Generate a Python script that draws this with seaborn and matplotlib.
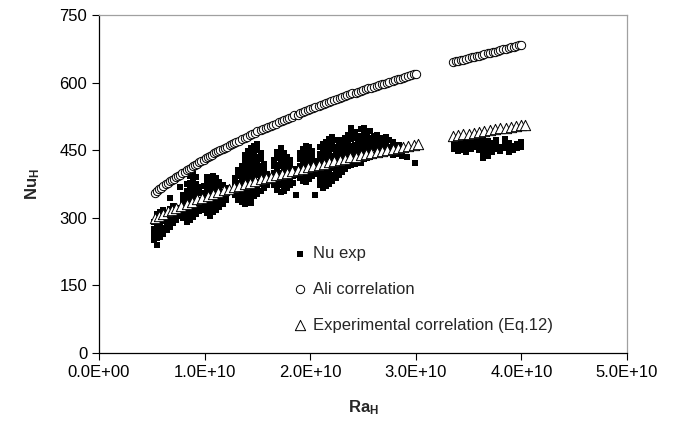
import numpy as np
import pandas as pd
import seaborn as sns
import matplotlib.pyplot as plt
from matplotlib.ticker import FuncFormatter

# Ali correlation (Ra in units of 1E10)
ali_ra = [0.53, 0.55, 0.57, 0.59, 0.61, 0.63, 0.65, 0.67, 0.69, 0.71, 0.73, 0.75, 0.77, 0.79,
          0.81, 0.83, 0.85, 0.87, 0.89, 0.91, 0.93, 0.95, 0.97, 0.99, 1.01, 1.03, 1.05, 1.07,
          1.09, 1.11, 1.13, 1.15, 1.17, 1.19, 1.21, 1.24, 1.26, 1.28, 1.30, 1.33, 1.35, 1.38,
          1.40, 1.43, 1.45, 1.48, 1.50, 1.53, 1.55, 1.58, 1.60, 1.63, 1.65, 1.68, 1.70, 1.73,
          1.75, 1.78, 1.80, 1.83, 1.85, 1.88, 1.90, 1.93, 1.95, 1.98, 2.00, 2.03, 2.05, 2.08,
          2.10, 2.13, 2.15, 2.18, 2.20, 2.23, 2.25, 2.28, 2.30, 2.33, 2.35, 2.38, 2.40, 2.43,
          2.45, 2.48, 2.50, 2.53, 2.55, 2.58, 2.60, 2.63, 2.65, 2.68, 2.70, 2.73, 2.75, 2.78,
          2.80, 2.83, 2.85, 2.88, 2.90, 2.93, 2.95, 2.98, 3.00,
          3.35, 3.38, 3.40, 3.43, 3.45, 3.48, 3.50, 3.53, 3.55, 3.58, 3.60, 3.63, 3.65, 3.68,
          3.70, 3.73, 3.75, 3.78, 3.80, 3.83, 3.85, 3.88, 3.90, 3.93, 3.95, 3.98, 4.00]
ali_nu = [356, 360, 363, 367, 370, 374, 377, 381, 384, 387, 390, 393, 396, 399,
          402, 405, 408, 411, 414, 417, 420, 423, 426, 429, 432, 434, 437, 440,
          443, 445, 448, 450, 453, 455, 458, 461, 464, 466, 469, 471, 474, 477,
          480, 483, 487, 489, 492, 494, 497, 499, 502, 504, 507, 509, 512, 514,
          517, 519, 522, 524, 527, 529, 532, 534, 537, 539, 542, 544, 546, 548,
          550, 553, 555, 557, 559, 561, 563, 565, 567, 570, 572, 574, 576, 578,
          580, 582, 584, 586, 588, 589, 591, 593, 595, 596, 598, 600, 602, 604,
          606, 607, 609, 611, 613, 614, 616, 618, 620,
          645, 647, 648, 650, 651, 653, 654, 656, 657, 659, 660, 662, 663, 665,
          666, 668, 669, 671, 672, 674, 675, 677, 678, 680, 681, 683, 684]

# Experimental correlation (Eq.12)
eq_ra = [0.53, 0.57, 0.61, 0.65, 0.69, 0.73, 0.78, 0.83, 0.88, 0.93, 0.98, 1.03, 1.08,
         1.13, 1.18, 1.23, 1.28, 1.33, 1.38, 1.43, 1.48, 1.53, 1.58, 1.63, 1.68, 1.73,
         1.78, 1.83, 1.88, 1.93, 1.98, 2.03, 2.08, 2.13, 2.18, 2.23, 2.28, 2.33, 2.38,
         2.43, 2.48, 2.53, 2.58, 2.63, 2.68, 2.73, 2.78, 2.83, 2.88, 2.93, 2.98, 3.02,
         3.35, 3.40, 3.45, 3.50, 3.55, 3.60, 3.65, 3.70, 3.75, 3.80, 3.85, 3.90, 3.95,
         4.00, 4.03]
eq_nu = [300, 305, 309, 314, 318, 322, 327, 331, 336, 341, 345, 349, 353,
         357, 361, 364, 368, 371, 375, 378, 382, 385, 388, 391, 394, 397,
         400, 403, 406, 409, 412, 414, 417, 420, 423, 426, 428, 431, 434,
         436, 439, 441, 444, 446, 448, 451, 453, 455, 458, 460, 462, 464,
         481, 483, 485, 487, 489, 491, 493, 495, 497, 499, 500, 502, 503,
         505, 506]

# Nu exp, grouped by Ra column
exp_ra = [0.52, 0.55, 0.58, 0.61, 0.64, 0.67, 0.70, 0.73, 0.77,
          0.80, 0.83, 0.86, 0.89, 0.92, 0.95,
          0.99, 1.02, 1.05, 1.08, 1.11, 1.14, 1.17, 1.20,
          1.29, 1.32, 1.35, 1.38, 1.41, 1.44, 1.47, 1.50, 1.53, 1.56, 1.59,
          1.66, 1.69, 1.72, 1.75, 1.78, 1.81, 1.84, 1.87,
          1.90, 1.93, 1.96, 1.99, 2.02, 2.05,
          2.09, 2.12, 2.15, 2.18, 2.21, 2.24, 2.27, 2.30, 2.33, 2.36,
          2.39, 2.42, 2.45, 2.48, 2.51, 2.54, 2.57, 2.60, 2.63, 2.66, 2.69, 2.72,
          2.75, 2.78, 2.81, 2.84, 2.87, 2.92, 2.99,
          3.36, 3.40, 3.44, 3.48, 3.52, 3.56, 3.60, 3.64, 3.68, 3.72, 3.76,
          3.80, 3.84, 3.88, 3.92, 3.96, 4.00]
exp_nu = [
    [250, 262, 275, 290], [240, 255, 268, 282, 296, 308], [258, 270, 285, 300, 312],
    [265, 278, 292, 305, 318], [272, 286, 298, 310], [280, 294, 306, 320, 344],
    [288, 300, 312, 326], [296, 308, 322], [305, 316, 368],
    [300, 312, 325, 338, 350], [290, 305, 318, 332, 346, 360, 375],
    [295, 310, 322, 336, 350, 364, 378, 392], [302, 315, 328, 342, 356, 370, 384, 398],
    [308, 320, 334, 348, 362, 376, 390], [315, 328, 340, 354, 368],
    [318, 330, 342, 356, 370], [310, 322, 336, 350, 364, 378, 390],
    [305, 318, 332, 346, 360, 374, 386], [312, 326, 340, 354, 368, 382, 392],
    [318, 332, 346, 360, 374, 388], [325, 338, 352, 366, 380], [330, 344, 358, 372],
    [340, 352, 366],
    [350, 362, 375, 388], [340, 352, 365, 378, 392, 405],
    [335, 348, 360, 374, 388, 402, 416], [330, 344, 358, 372, 386, 400, 414, 428, 440],
    [336, 350, 364, 378, 392, 406, 420, 434, 448], [333, 342, 356, 370, 384, 398, 412, 426, 440, 454],
    [348, 362, 376, 390, 404, 418, 432, 446, 460], [352, 366, 380, 394, 408, 422, 436, 450, 464],
    [360, 374, 388, 402, 416, 430, 444], [366, 380, 394, 408, 420], [372, 386, 398],
    [372, 386, 400, 414, 428], [362, 376, 390, 404, 418, 432, 446],
    [358, 372, 386, 400, 414, 428, 442, 455], [360, 374, 388, 402, 416, 430, 444],
    [366, 380, 394, 408, 422, 436], [372, 386, 400, 414, 428], [378, 392, 406],
    [350, 395, 408],
    [388, 402, 416, 430, 444], [382, 396, 410, 424, 438, 452],
    [380, 394, 408, 422, 436, 450, 460], [386, 400, 414, 428, 442, 456],
    [392, 406, 420, 434, 448], [350, 398, 412, 426],
    [372, 386, 400, 414, 428, 442, 456], [366, 380, 394, 408, 422, 436, 450, 464],
    [370, 384, 398, 412, 426, 440, 454, 468], [376, 390, 404, 418, 432, 446, 460, 474],
    [382, 396, 410, 424, 438, 452, 466, 480], [388, 402, 416, 430, 444, 458, 472],
    [395, 409, 423, 437, 451, 465], [402, 416, 430, 444, 458, 472],
    [408, 422, 436, 450, 464, 478], [414, 428, 442, 456, 470, 484],
    [418, 432, 446, 460, 474, 488, 499], [420, 434, 448, 462, 476, 490],
    [424, 438, 452, 466, 480], [421, 426, 440, 454, 468, 482, 496],
    [430, 444, 458, 472, 486, 499], [432, 446, 460, 474, 488],
    [436, 450, 464, 478, 492], [440, 454, 468, 482], [442, 456, 470, 484],
    [446, 460, 474], [448, 462, 476], [452, 466, 480],
    [444, 458, 472], [440, 454, 468], [442, 456], [448, 462], [438, 452], [435], [421],
    [452, 462, 472], [448, 458, 468], [450, 460, 470], [446, 456, 466], [452, 462, 472],
    [458, 468, 480], [450, 460, 470], [433, 444, 454, 464, 476], [438, 440, 450, 460, 470],
    [446, 456, 466], [452, 462, 472], [448, 458], [454, 464, 474], [446, 456, 466],
    [450, 460], [454, 464], [458, 468]]

xticks = [0, 1e10, 2e10, 3e10, 4e10, 5e10]
yticks = [0, 150, 300, 450, 600, 750]

exp_df = pd.DataFrame({"Ra": [r * 1e10 for r, col in zip(exp_ra, exp_nu) for _ in col],
                       "Nu": [v for col in exp_nu for v in col]})
ali_df = pd.DataFrame({"Ra": np.array(ali_ra) * 1e10, "Nu": ali_nu})
eq_df = pd.DataFrame({"Ra": np.array(eq_ra) * 1e10, "Nu": eq_nu})

sns.set_style("white")
plt.rcParams["font.family"] = ["Liberation Sans", "DejaVu Sans"]
plt.rcParams["mathtext.fontset"] = "custom"
plt.rcParams["mathtext.bf"] = "Liberation Sans:bold"
plt.rcParams["mathtext.rm"] = "Liberation Sans"

fig = plt.figure(figsize=(6.85, 4.29), dpi=100)
ax = fig.add_axes([99 / 685, 1 - 353 / 429, 528 / 685, 338 / 429])

sns.scatterplot(data=exp_df, x="Ra", y="Nu", marker="s", color="black", s=16,
                linewidth=0, label="Nu exp", ax=ax, zorder=2)
sns.scatterplot(data=ali_df, x="Ra", y="Nu", marker="o", color="white", edgecolor="black",
                s=36, linewidth=0.7, label="Ali correlation", ax=ax, zorder=3)
sns.scatterplot(data=eq_df, x="Ra", y="Nu", marker="^", color="white", edgecolor="black",
                s=55, linewidth=0.7, label="Experimental correlation (Eq.12)", ax=ax, zorder=4)

ax.set_xlim(0, 5e10)
ax.set_ylim(0, 750)
ax.set_xticks(xticks)
ax.set_yticks(yticks)
ax.xaxis.set_major_formatter(FuncFormatter(lambda v, p: f"{v:.1E}"))
ax.tick_params(axis="both", direction="out", length=5, width=0.8, labelsize=12,
               colors="black", bottom=True, left=True)
for side in ["left", "bottom"]:
    ax.spines[side].set_color("black")
    ax.spines[side].set_linewidth(0.9)
for side in ["top", "right"]:
    ax.spines[side].set_color("#a0a0a0")
    ax.spines[side].set_linewidth(0.9)

ax.set_xlabel(r"$\mathbf{Ra_H}$", fontsize=12, va="center")
ax.set_ylabel(r"$\mathbf{Nu_H}$", fontsize=12, va="center")
ax.xaxis.set_label_coords(0.5, (353 - 408) / 338)
ax.yaxis.set_label_coords((33 - 99) / 528, 0.5)

ax.legend(loc="upper left", bbox_to_anchor=(293 / 685, 1 - 246 / 429),
          bbox_transform=fig.transFigure, frameon=False, fontsize=12,
          borderpad=0, borderaxespad=0, handlelength=0.8, handletextpad=0.4,
          labelspacing=1.25)

fig.savefig("out.png", dpi=100)
